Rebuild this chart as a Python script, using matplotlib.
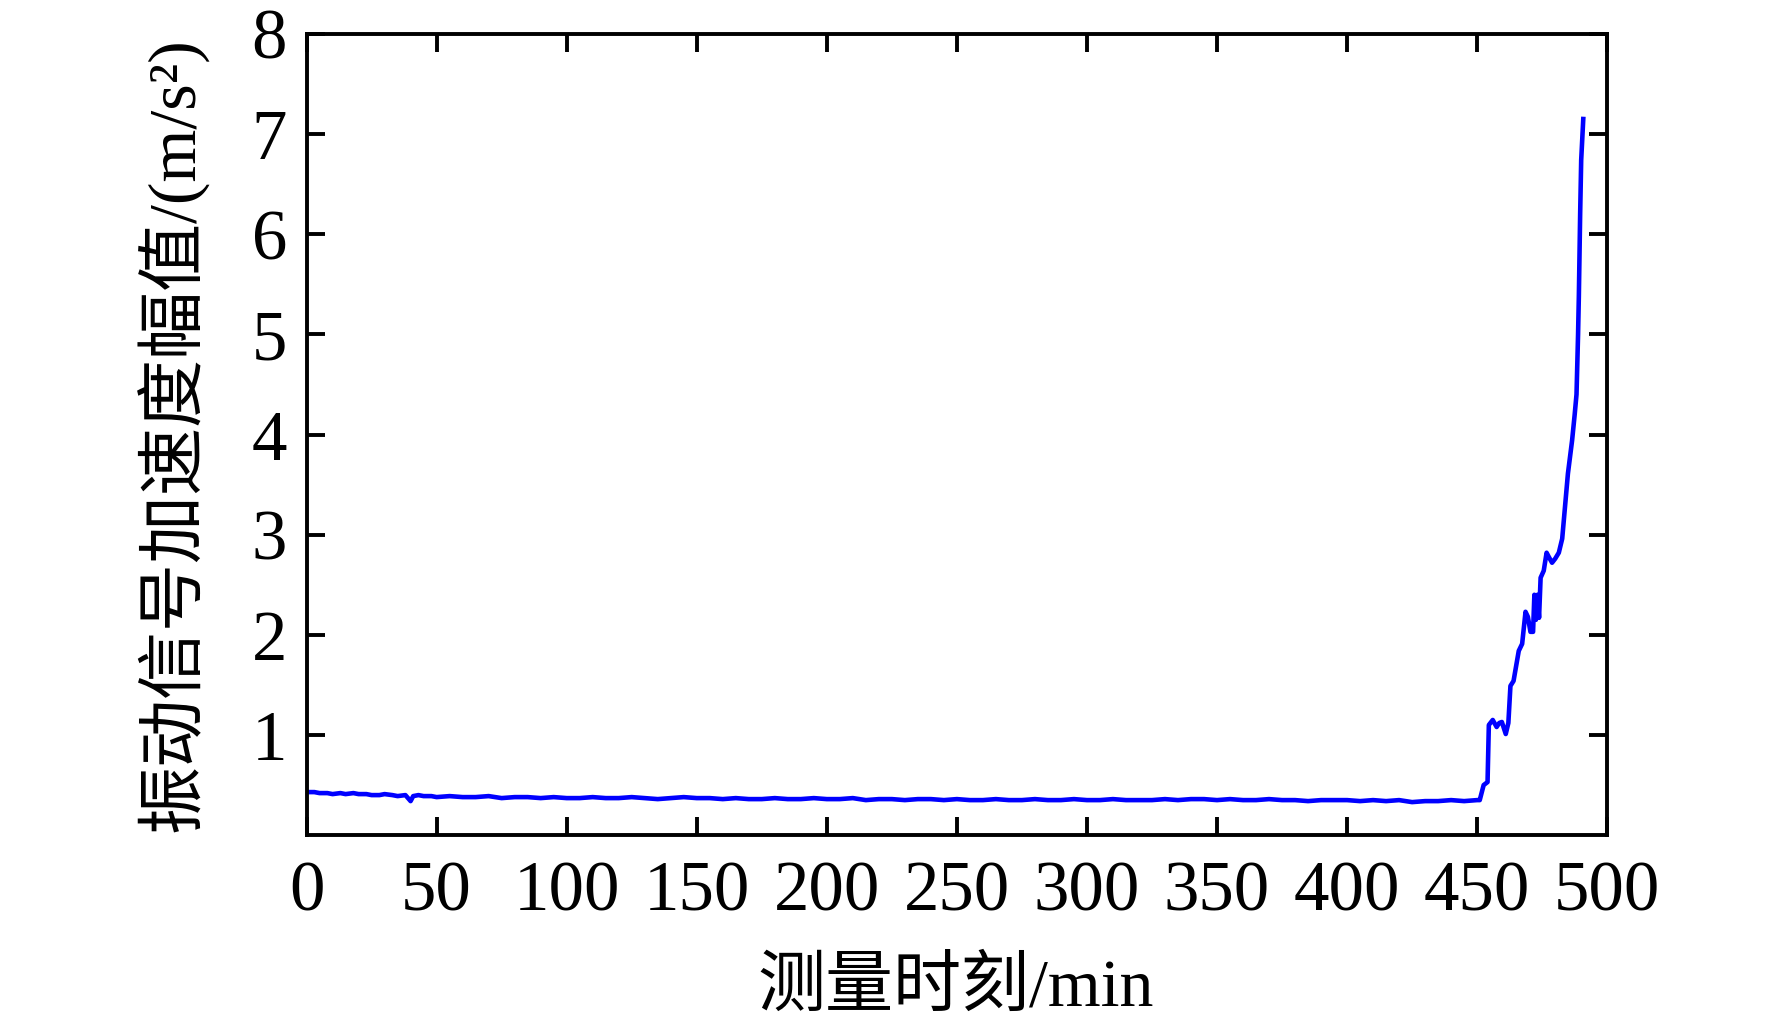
import matplotlib
matplotlib.use("Agg")
import matplotlib.pyplot as plt

plt.rcParams['font.family'] = ['Liberation Serif', 'Noto Sans CJK SC', 'DejaVu Sans']

# measurement time (min)
t_flat = [0, 3, 5, 8, 10, 13, 15, 18, 20, 23, 25, 28, 30, 33, 35, 38, 40, 41, 43, 45,
          48, 50, 55, 60, 65, 70, 75, 80, 85, 90, 95, 100, 105, 110, 115, 120, 125,
          130, 135, 140, 145, 150, 155, 160, 165, 170, 175, 180, 185, 190, 195, 200,
          205, 210, 215, 220, 225, 230, 235, 240, 245, 250, 255, 260, 265, 270, 275,
          280, 285, 290, 295, 300, 305, 310, 315, 320, 325, 330, 335, 340, 345, 350,
          355, 360, 365, 370, 375, 380, 385, 390, 395, 400, 405, 410, 415, 420, 425,
          430, 435, 440, 445, 450]
v_flat = [0.43, 0.43, 0.42, 0.42, 0.41, 0.42, 0.41, 0.42, 0.41, 0.41, 0.40, 0.40, 0.41,
          0.40, 0.39, 0.40, 0.34, 0.39, 0.40, 0.39,
          0.39, 0.38, 0.39, 0.38, 0.38, 0.39, 0.37, 0.38, 0.38, 0.37, 0.38, 0.37, 0.37,
          0.38, 0.37, 0.37, 0.38, 0.37, 0.36, 0.37, 0.38, 0.37, 0.37, 0.36, 0.37, 0.36,
          0.36, 0.37, 0.36, 0.36, 0.37, 0.36, 0.36, 0.37, 0.35, 0.36, 0.36, 0.35, 0.36,
          0.36, 0.35, 0.36, 0.35, 0.35, 0.36, 0.35, 0.35, 0.36, 0.35, 0.35, 0.36, 0.35,
          0.35, 0.36, 0.35, 0.35, 0.35, 0.36, 0.35, 0.36, 0.36, 0.35, 0.36, 0.35, 0.35,
          0.36, 0.35, 0.35, 0.34, 0.35, 0.35, 0.35, 0.34, 0.35, 0.34, 0.35, 0.33, 0.34,
          0.34, 0.35, 0.34, 0.35]
t_rise = [451, 452.5, 454, 454.5, 456, 457.5, 458.5, 459.5, 461, 462, 462.8, 464, 466,
          467.3, 468.6, 469.5, 470.5, 471.5, 472, 472.6, 473.2, 473.8, 474.4, 475.6,
          476.7, 477.5, 478.8, 480, 481.4, 482.7, 483.5, 484.9, 486.5, 487.5, 488.2,
          488.8, 489.1, 489.6, 490.0, 490.8]
v_rise = [0.35, 0.50, 0.53, 1.10, 1.15, 1.08, 1.12, 1.13, 1.01, 1.12, 1.49, 1.54, 1.84,
          1.91, 2.23, 2.18, 2.03, 2.03, 2.40, 2.15, 2.40, 2.17, 2.57, 2.64,
          2.82, 2.78, 2.72, 2.76, 2.82, 2.96, 3.20, 3.61, 3.94, 4.20, 4.40,
          5.00, 5.38, 6.20, 6.74, 7.15]

time = t_flat + t_rise
amp = v_flat + v_rise

x_ticks = [0, 50, 100, 150, 200, 250, 300, 350, 400, 450, 500]
y_ticks = [1, 2, 3, 4, 5, 6, 7, 8]

fig = plt.figure(figsize=(17.72, 10.26), dpi=100)
ax = fig.add_axes([0.173, 0.186, 0.734, 0.781])
ax.plot(time, amp, color='#0000ff', lw=3.3)
ax.set_xlim(0, 500)
ax.set_ylim(0, 8)
ax.set_xticks(x_ticks)
ax.set_yticks(y_ticks)
ax.tick_params(direction='in', length=13, width=2.8, labelsize=51,
               top=True, right=True, pad=14)
ax.tick_params(axis='x', pad=18)
for s in ax.spines.values():
    s.set_linewidth(2.8)

ax.set_xlabel('测量时刻/min', fontsize=49, va='center')
ax.xaxis.set_label_coords(0.499, -0.192)
ax.set_ylabel('振动信号加速度幅值/(m/s²)', fontsize=49, va='center')
ax.yaxis.set_label_coords(-0.103, 0.5)

fig.savefig('out.png', dpi=100, facecolor='white')
